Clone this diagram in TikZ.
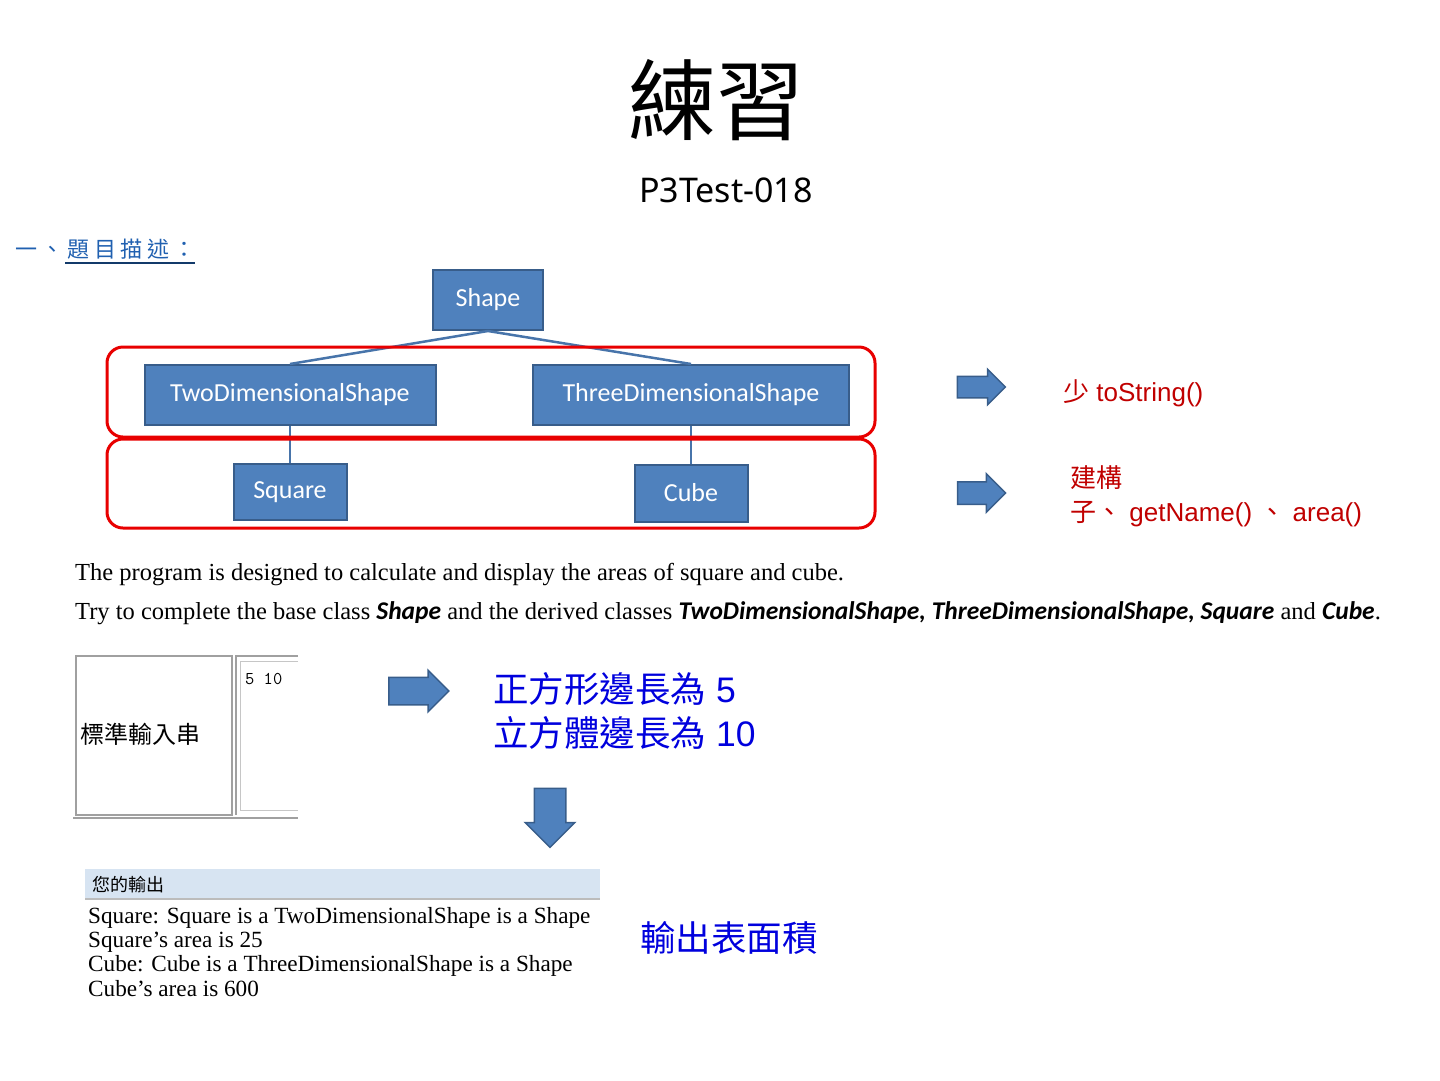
\documentclass[tikz,border=0pt]{standalone}
\usepackage{fontspec}
\setmainfont{Liberation Serif}
\setsansfont{Liberation Sans}
\newfontfamily\cjk{Noto Sans CJK TC}
\newfontfamily\calibri{Carlito}
\newfontfamily\ptfont{Noto Sans}
\usepackage{xcolor}
\usetikzlibrary{shapes.arrows}
\usetikzlibrary{calc}
\definecolor{boxblue}{HTML}{4F81BD}
\definecolor{boxedge}{HTML}{385D8A}
\definecolor{markred}{HTML}{E80000}
\definecolor{notered}{HTML}{C00000}
\definecolor{noteblue}{HTML}{0000DD}
\definecolor{headblue}{HTML}{2060B0}
\definecolor{barblue}{HTML}{D7E4F2}
\definecolor{cellgray}{HTML}{A0A0A0}

\begin{document}
\begin{tikzpicture}[x=1pt,y=-1pt]

                \tikzstyle{cls}   = [rectangle, draw=boxedge, line width=2pt, fill=boxblue, text=white, font=\calibri\fontsize{26}{28}\selectfont, inner sep=0pt]
                \tikzstyle{tie}   = [draw=boxblue!90!black, line width=2.5pt]
                \tikzstyle{fat}   = [single arrow, draw=boxedge, line width=1.5pt, fill=boxblue, inner sep=0pt]
                \tikzstyle{note}  = [anchor=base west, inner sep=0pt]
                \tikzstyle{group} = [draw=markred, line width=3pt, rounded corners=16pt]
                \useasboundingbox (0,0) rectangle (1440,1080);

                %% title
                \node (title) at (716,100) {\cjk\fontsize{88}{90}\selectfont 練習};
                \node (code) at (726,190) {\ptfont\fontsize{34}{36}\selectfont P3Test-018};
                \node [note, text=headblue](head) at (15,257) {\cjk\fontsize{22}{24}\selectfont\addfontfeature{LetterSpace=20} 一、題目描述：};
                \draw [headblue!60!black, line width=1.5pt] (65,263) -- (195,263);

                %% class tree
                \node [cls, minimum width=110pt, minimum height=60pt](shape) at (488,300) {Shape};
                \node [cls, minimum width=291pt, minimum height=60pt](two) at (290,395) {TwoDimensionalShape};
                \node [cls, minimum width=316pt, minimum height=60pt](three) at (691,395) {ThreeDimensionalShape};
                \node [cls, minimum width=113pt, minimum height=56pt](square) at (290,492) {Square};
                \node [cls, minimum width=113pt, minimum height=57pt](cube) at (691,493) {Cube};
                \draw [tie] (shape.south) -- (two.north);
                \draw [tie] (shape.south) -- (three.north);
                \draw [tie] (two.south) -- (square.north);
                \draw [tie] (three.south) -- (cube.north);

                \draw [group] (107,347) rectangle (875,437);
                \draw [group] (107,439) rectangle (875,528);

                %% remarks
                \node [fat, minimum height=48pt, single arrow head extend=7pt](a1) at (976,387) {\rule{0pt}{20pt}};
                \node [fat, minimum height=48pt, single arrow head extend=8pt](a2) at (976,493) {\rule{0pt}{21pt}};
                \node [note, text=notered](r1) at (1063,401) {\sffamily\fontsize{26}{28}\selectfont{\cjk 少} toString()};
                \node [note, text=notered](r2) at (1070,487) {\fontsize{26}{28}\selectfont\cjk 建構};
                \node [note, text=notered](r3) at (1070,521) {\sffamily\fontsize{26}{28}\selectfont{\cjk 子、} getName() {\cjk 、} area()};

                %% task text
                \node [note](t1) at (75,580) {\fontsize{24.5}{26}\selectfont The program is designed to calculate and display the areas of square and cube.};
                \node [note](t2) at (75,619) {\fontsize{24.5}{26}\selectfont Try to complete the base class {\calibri\fontsize{25.5}{26}\selectfont\bfseries\itshape Shape} and the derived classes {\calibri\fontsize{25.5}{26}\selectfont\bfseries\itshape TwoDimensionalShape, ThreeDimensionalShape, Square} and {\calibri\fontsize{25.5}{26}\selectfont\bfseries\itshape Cube}.};

                %% input table
                \draw [cellgray, line width=1.5pt] (76,656) rectangle (232,815);
                \draw [cellgray, line width=1.5pt] (298,656) -- (236,656) -- (236,815);
                \draw [cellgray!60, line width=1pt] (298,661) -- (240,661) -- (240,810) -- (298,810);
                \draw [cellgray, line width=2pt] (73,818) -- (298,818);
                \node [note](inlab) at (80,743) {\cjk\fontsize{24}{26}\selectfont 標準輸入串};
                \node [note](inval) at (245,684) {\ttfamily\fontsize{18}{20}\selectfont 5 10};

                \node [fat, minimum height=60pt, single arrow head extend=7pt](a3) at (412,691) {\rule{0pt}{26pt}};
                \node [note, text=noteblue](b1) at (493,702) {\sffamily\fontsize{35.5}{37}\selectfont{\cjk 正方形邊長為} 5};
                \node [note, text=noteblue](b2) at (493,746) {\sffamily\fontsize{35.5}{37}\selectfont{\cjk 立方體邊長為} 10};
                \node [fat, shape border rotate=270, minimum height=59pt, single arrow head extend=9pt](a4) at (550,810) {\rule{30pt}{0pt}};

                %% output
                \fill [barblue] (85,869) rectangle (600,899);
                \draw [cellgray!70, line width=1.5pt] (85,899) -- (600,899);
                \node [note](outlab) at (92,891) {\cjk\fontsize{18}{20}\selectfont 您的輸出};
                \node [note](o1) at (88,923) {\fontsize{23.2}{24}\selectfont Square: Square is a TwoDimensionalShape is a Shape};
                \node [note](o2) at (88,947) {\fontsize{23.2}{24}\selectfont Square's area is 25};
                \node [note](o3) at (88,971) {\fontsize{23.2}{24}\selectfont Cube: Cube is a ThreeDimensionalShape is a Shape};
                \node [note](o4) at (88,996) {\fontsize{23.2}{24}\selectfont Cube's area is 600};
                \node [note, text=noteblue](b3) at (640,951) {\cjk\fontsize{35.5}{37}\selectfont 輸出表面積};
\end{tikzpicture}
\end{document}
